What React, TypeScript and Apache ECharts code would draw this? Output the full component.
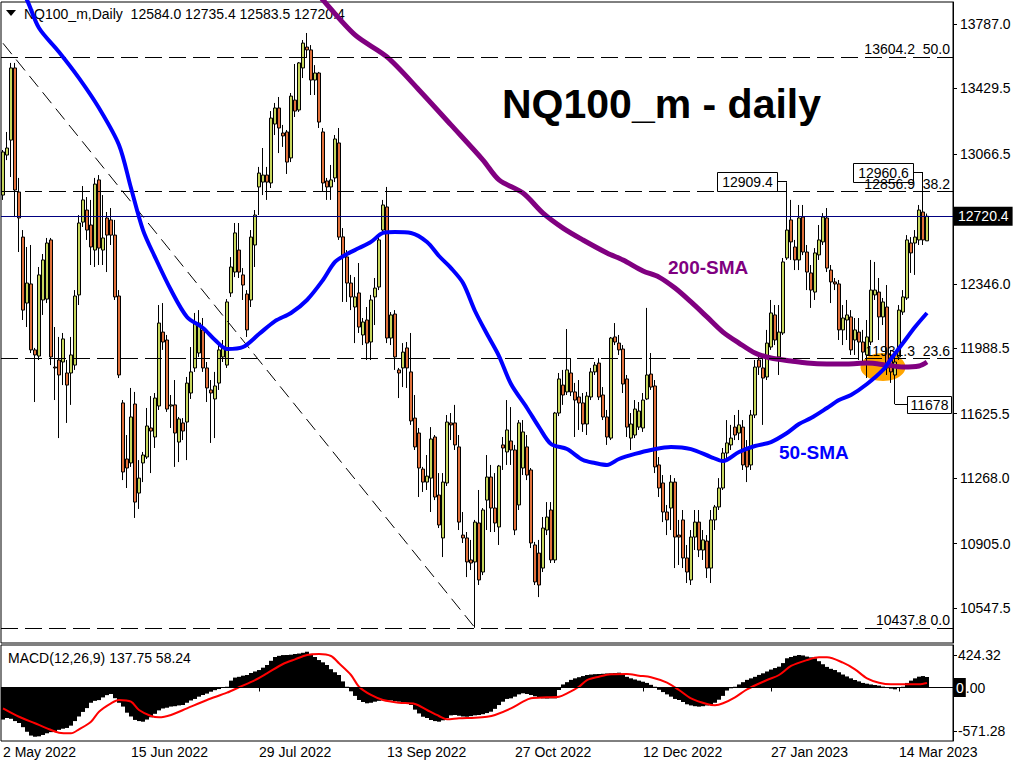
import React, { useEffect, useRef } from "react";
import * as echarts from "echarts";

const FONT = "Liberation Sans";
const headerText = "NQ100_m,Daily  12584.0 12735.4 12583.5 12720.4";
const macdText = "MACD(12,26,9) 137.75 58.24";
const titleText = "NQ100_m - daily";

const dateLabels = ["2 May 2022", "15 Jun 2022", "29 Jul 2022", "13 Sep 2022", "27 Oct 2022", "12 Dec 2022", "27 Jan 2023", "14 Mar 2023"];
const LABEL_EVERY = 32;
const SLOTS = 238;

// [open, high, low, close]
const candles: number[][] = [
  [12838, 13088, 12811, 13077], [13060, 13188, 13032, 13099], [13143, 13571, 12938, 13543], [13543, 13571, 12716, 12866],
  [12855, 12933, 12522, 12711], [12605, 12644, 12145, 12200], [12239, 12550, 12106, 12350], [12345, 12561, 11962, 11979],
  [11979, 11990, 11690, 11951], [11945, 12439, 11923, 12395], [12256, 12511, 12173, 12478], [12261, 12600, 12239, 12572],
  [12589, 12600, 11895, 11940], [11884, 12106, 11701, 11879], [11923, 12051, 11490, 11840], [11912, 12073, 11784, 12040],
  [11851, 11923, 11574, 11784], [11851, 12051, 11674, 11951], [11895, 12311, 11868, 12278], [12284, 12727, 12228, 12683],
  [12688, 12888, 12661, 12811], [12755, 12827, 12589, 12644], [12672, 12811, 12450, 12550], [12533, 12933, 12439, 12899],
  [12922, 12949, 12450, 12544], [12533, 12838, 12450, 12600], [12711, 12744, 12411, 12616], [12700, 12766, 12561, 12616],
  [12616, 12700, 12256, 12273], [12278, 12311, 11823, 11840], [11685, 11701, 11257, 11302], [11374, 11507, 11213, 11324],
  [11352, 11768, 11330, 11607], [11679, 11746, 11047, 11135], [11185, 11368, 11097, 11268], [11352, 11413, 11246, 11396],
  [11385, 11657, 11374, 11557], [11546, 11723, 11296, 11529], [11496, 11740, 11435, 11712], [11668, 12228, 11646, 12128],
  [12078, 12239, 11979, 12023], [12034, 12062, 11635, 11651], [11668, 11729, 11546, 11674], [11674, 11812, 11330, 11518],
  [11468, 11607, 11357, 11596], [11574, 11601, 11479, 11529], [11579, 11829, 11368, 11795], [11740, 11995, 11707, 11857],
  [11879, 12184, 11857, 12128], [11962, 12200, 11940, 12128], [12090, 12156, 11857, 11879], [11879, 11912, 11690, 11768],
  [11757, 11812, 11463, 11740], [11707, 11857, 11490, 11779], [11795, 12017, 11757, 11979], [11940, 12034, 11912, 11995],
  [11895, 12261, 11879, 12245], [12295, 12494, 12273, 12439], [12411, 12683, 12383, 12628], [12533, 12683, 12378, 12411],
  [12395, 12433, 12256, 12339], [12289, 12311, 12051, 12090], [12256, 12644, 12217, 12605], [12561, 12755, 12439, 12727],
  [12883, 12994, 12727, 12960], [12910, 13099, 12838, 12949], [12949, 12994, 12811, 12910], [12905, 13304, 12877, 13265],
  [13232, 13349, 13171, 13321], [13321, 13382, 13071, 13210], [13182, 13227, 13105, 13166], [13188, 13199, 12955, 13021],
  [13044, 13404, 13021, 13387], [13365, 13565, 13271, 13304], [13310, 13576, 13299, 13571], [13543, 13698, 13487, 13681],
  [13659, 13737, 13598, 13643], [13643, 13670, 13393, 13476], [13476, 13559, 13393, 13515], [13515, 13521, 13210, 13243],
  [13188, 13210, 12855, 12905], [12916, 12933, 12811, 12883], [12883, 13005, 12811, 12922], [12933, 13171, 12910, 13149],
  [13127, 13210, 12589, 12605], [12606, 12655, 12245, 12495], [12495, 12533, 12245, 12350], [12350, 12395, 12200, 12273],
  [12217, 12383, 12017, 12273], [12295, 12461, 12073, 12106], [12062, 12156, 12006, 12134], [12145, 12217, 11923, 12017],
  [12023, 12284, 11923, 12256], [12273, 12378, 12117, 12322], [12328, 12616, 12311, 12589], [12644, 12811, 12616, 12783],
  [12772, 12883, 12017, 12045], [12045, 12189, 12006, 12173], [12178, 12200, 11868, 11940], [11868, 11879, 11712, 11851],
  [11879, 12017, 11773, 11967], [11990, 12023, 11768, 11879], [11857, 12073, 11563, 11585], [11601, 11729, 11424, 11441],
  [11518, 11546, 11163, 11324], [11318, 11330, 11191, 11246], [11246, 11396, 11202, 11279], [11268, 11551, 11080, 11485],
  [11496, 11507, 11146, 11163], [11174, 11296, 10991, 11008], [10936, 11296, 10830, 11246], [11241, 11618, 11224, 11579],
  [11574, 11629, 11479, 11563], [11574, 11674, 11424, 11452], [11441, 11507, 10980, 11024], [10952, 11080, 10908, 10936],
  [10936, 10969, 10719, 10803], [10814, 10925, 10758, 10797], [10803, 11036, 10437.8, 11024], [11019, 11202, 10675, 10703],
  [10747, 11102, 10730, 11091], [11146, 11396, 10980, 11274], [11274, 11341, 10969, 11102], [11102, 11296, 10969, 11019],
  [10997, 11341, 10897, 11335], [11452, 11496, 11313, 11435], [11413, 11701, 11341, 11535], [11474, 11662, 11341, 11424],
  [11424, 11452, 10952, 10980], [11119, 11590, 11091, 11574], [11324, 11590, 11285, 11524], [11441, 11507, 11257, 11285],
  [11313, 11324, 10880, 10908], [10897, 10914, 10675, 10692], [10852, 10925, 10608, 10675], [10769, 11052, 10747, 10991],
  [10980, 11135, 10952, 11052], [11091, 11135, 10797, 10814], [10814, 11635, 10797, 11629], [11629, 11851, 11612, 11818],
  [11784, 11868, 11674, 11729], [11746, 12095, 11729, 11868], [11851, 11934, 11723, 11746], [11746, 11796, 11496, 11701],
  [11718, 11812, 11535, 11685], [11685, 11740, 11524, 11568], [11568, 11746, 11507, 11723], [11718, 11879, 11701, 11857],
  [11857, 11912, 11840, 11895], [11906, 11934, 11701, 11718], [11729, 11773, 11590, 11607], [11607, 11646, 11452, 11496],
  [11490, 12051, 11479, 12045], [12051, 12128, 12006, 12023], [12017, 12062, 11951, 11979], [11984, 12006, 11740, 11790],
  [11818, 11840, 11496, 11551], [11490, 11629, 11424, 11568], [11507, 11701, 11490, 11651], [11551, 11690, 11535, 11640],
  [11546, 11740, 11524, 11701], [11707, 12212, 11701, 11840], [11845, 11962, 11757, 11773], [11779, 11812, 11296, 11330],
  [11341, 11385, 11163, 11213], [11241, 11285, 11024, 11080], [11080, 11119, 10952, 11036], [11102, 11285, 10980, 11246],
  [11246, 11268, 10769, 10941], [10952, 11036, 10786, 10941], [11036, 11091, 10769, 10825], [10825, 10897, 10686, 10747],
  [10703, 10980, 10675, 10941], [10941, 11091, 10869, 11024], [11024, 11091, 10830, 10869], [10869, 10980, 10814, 10925],
  [10919, 10952, 10714, 10769], [10769, 11091, 10686, 11036], [11036, 11119, 10980, 11108], [11108, 11268, 11091, 11213],
  [11213, 11435, 11202, 11407], [11407, 11590, 11368, 11463], [11452, 11563, 11424, 11490], [11551, 11618, 11479, 11507],
  [11518, 11646, 11479, 11563], [11551, 11590, 11313, 11341], [11424, 11479, 11246, 11330], [11341, 11646, 11313, 11618],
  [11618, 11923, 11601, 11884], [11923, 11951, 11840, 11884], [11879, 11951, 11563, 11823], [11829, 12090, 11812, 12017],
  [11995, 12256, 11979, 12184], [12173, 12228, 12006, 12034], [11940, 12228, 11840, 12078], [12073, 12489, 12062, 12467],
  [12489, 12909.4, 12478, 12644], [12700, 12811, 12478, 12578], [12550, 12589, 12422, 12478], [12478, 12783, 12422, 12711],
  [12716, 12783, 12505, 12522], [12522, 12561, 12311, 12411], [12406, 12450, 12212, 12311], [12300, 12544, 12256, 12517],
  [12506, 12672, 12478, 12589], [12578, 12738, 12561, 12716], [12711, 12766, 12411, 12433], [12422, 12450, 12239, 12356],
  [12356, 12378, 12311, 12345], [12345, 12367, 12034, 12090], [12090, 12228, 12006, 12156], [12145, 12256, 12034, 12173],
  [12162, 12200, 11951, 11979], [12034, 12156, 11951, 12090], [12078, 12156, 11923, 12023], [12023, 12090, 11912, 11967],
  [11951, 12145, 11823, 12051], [12023, 12478, 12006, 12311], [12284, 12467, 12256, 12311], [12300, 12378, 12034, 12162],
  [12162, 12267, 12117, 12245], [12217, 12339, 11840, 11879], [11934, 11979, 11796, 11857], [11840, 11951, 11678, 11912],
  [11940, 12228, 11923, 12200], [12189, 12311, 12173, 12273], [12267, 12616, 12256, 12589], [12572, 12605, 12406, 12517],
  [12572, 12644, 12395, 12605], [12589, 12783, 12561, 12755], [12744, 12960.6, 12561, 12589], [12584.0, 12735.4, 12583.5, 12720.4],
];

// [bar index, value]
const sma50: number[][] = [
  [0, 14170], [6, 13920], [9, 13765], [14, 13632], [19, 13487], [24, 13321], [29, 13116], [32, 12877], [35, 12644],
  [38, 12494], [42, 12311], [46, 12162], [50, 12101], [53, 12034], [56, 11984], [60, 11995], [64, 12067], [68, 12139],
  [72, 12184], [76, 12256], [80, 12367], [83, 12467], [86, 12511], [89, 12544], [92, 12578], [95, 12628], [98, 12633],
  [102, 12628], [106, 12578], [109, 12500], [112, 12433], [115, 12350], [118, 12195], [121, 12067], [124, 11945],
  [127, 11790], [131, 11657], [134, 11551], [137, 11457], [141, 11429], [145, 11368], [148, 11352], [151, 11341],
  [154, 11374], [158, 11402], [162, 11424], [167, 11441], [172, 11429], [177, 11385], [180, 11363], [184, 11413],
  [188, 11446], [192, 11468], [196, 11518], [199, 11568], [202, 11601], [206, 11657], [209, 11701], [212, 11729],
  [216, 11790], [220, 11868], [222, 11929], [225, 12017], [228, 12106], [231, 12184],
];
const sma200: number[][] = [
  [78, 13975], [80, 13920], [88, 13726], [96, 13604], [104, 13421], [112, 13227], [120, 13032], [124, 12922],
  [130, 12849], [135, 12738], [140, 12655], [145, 12589], [151, 12517], [155, 12478], [160, 12417], [164, 12383],
  [168, 12322], [172, 12245], [176, 12162], [180, 12078], [184, 12017], [188, 11962], [192, 11934], [197, 11918],
  [201, 11906], [206, 11901], [211, 11901], [216, 11906], [221, 11895], [225, 11884], [229, 11890], [231, 11912],
];
const trendLine: number[][] = [[0, 13680], [118, 10437.8]];

const fibLevels = [
  { price: 13604.2, text: "13604.2  50.0" },
  { price: 12856.9, text: "12856.9  38.2" },
  { price: 11931.3, text: "11931.3  23.6" },
  { price: 10437.8, text: "10437.8 0.0" },
];
const lastPrice = 12720.4;
const priceTicks = [13787.0, 13429.5, 13066.5, 12346.0, 11988.5, 11625.5, 11268.0, 10905.0, 10547.5];
const priceMin = 10353.3;
const priceMax = 13908.9;
const highlightPoint = [220, 11884];

const macdHist: number[] = [
  -420, -400, -410, -440, -465, -520, -580, -630, -645, -640,
  -622, -600, -585, -570, -555, -540, -530, -500, -440, -380,
  -320, -270, -200, -175, -165, -130, -100, -85, -140, -200,
  -250, -330, -380, -425, -440, -448, -420, -390, -345, -300,
  -275, -265, -250, -245, -235, -229, -200, -170, -150, -120,
  -98, -80, -55, -35, -20, -5, 10, 90, 130, 140,
  155, 164, 190, 210, 229, 260, 295, 350, 400, 415,
  425, 426, 430, 439, 445, 455, 469, 440, 400, 360,
  330, 295, 240, 200, 164, 80, 10, -50, -110, -164,
  -190, -207, -200, -186, -175, -168, -164, -170, -180, -186,
  -195, -210, -229, -290, -340, -383, -400, -426, -440, -448,
  -430, -400, -365, -360, -370, -380, -383, -375, -365, -360,
  -350, -335, -317, -280, -230, -186, -150, -142, -120, -90,
  -76, -85, -98, -115, -135, -142, -145, -142, -142, -33,
  40, 70, 100, 120, 135, 150, 164, 170, 175, 177,
  180, 184, 186, 190, 194, 170, 140, 120, 105, 90,
  76, 60, 35, 10, -30, -60, -90, -120, -150, -164,
  -190, -220, -235, -245, -251, -245, -235, -229, -200, -160,
  -110, -40, -10, 10, 40, 70, 100, 120, 140, 165,
  186, 210, 235, 255, 273, 320, 383, 400, 415, 426,
  420, 405, 395, 383, 345, 305, 270, 245, 229, 200,
  170, 145, 120, 98, 80, 60, 50, 40, 33, 25,
  12, 0, -15, -24, -5, 10, 60, 90, 120, 142,
  150, 137.75,
];
const macdSignal: number[][] = [
  [0, -273], [4, -383], [8, -469], [11, -535], [14, -592], [17, -600], [19, -548], [22, -448], [24, -317],
  [27, -207], [29, -164], [32, -186], [34, -295], [37, -373], [39, -391], [42, -360], [46, -273], [51, -164],
  [56, -68], [59, 3], [63, 98], [66, 186], [70, 308], [73, 369], [76, 426], [79, 439], [82, 413], [84, 317],
  [87, 164], [89, 10], [92, -98], [95, -164], [99, -199], [103, -216], [106, -295], [109, -373], [111, -417],
  [114, -404], [118, -396], [121, -383], [123, -360], [127, -273], [130, -186], [132, -142], [136, -129],
  [139, -120], [141, -76], [144, 10], [146, 98], [149, 142], [152, 173], [156, 177], [159, 155], [162, 134],
  [166, 63], [169, -33], [172, -142], [176, -216], [178, -232], [180, -207], [183, -129], [186, -24], [191, 98],
  [194, 164], [197, 282], [201, 360], [204, 396], [206, 396], [210, 325], [213, 238], [216, 120], [219, 63],
  [222, 42], [226, 42], [229, 42], [231, 58.24],
];
const macdTicks = [424.32, 0, -571.28];
const macdMin = -701;
const macdMax = 557;

const UP = "#c6d65c";
const DOWN = "#e0703a";

export default function App() {
  const ref = useRef<HTMLDivElement>(null);
  useEffect(() => {
    document.body.style.margin = "0";
    if (!ref.current) return;
    const chart = echarts.init(ref.current, null, { renderer: "svg" });
    const cats = Array.from({ length: SLOTS }, (_, i) => String(i));
    const showTick = (i: number) => i % LABEL_EVERY === 0 && i < candles.length;
    const lbl = { fontFamily: FONT, fontSize: 14, color: "#000" };

    const option: any = {
      animation: false,
      backgroundColor: "#fff",
      textStyle: { fontFamily: FONT },
      grid: [
        { left: 1, top: 2, width: 952, height: 641, show: true, borderColor: "#000", borderWidth: 1, backgroundColor: "transparent" },
        { left: 1, top: 645, width: 952, height: 96, show: true, borderColor: "#000", borderWidth: 1, backgroundColor: "transparent" },
      ],
      xAxis: [
        {
          type: "category", gridIndex: 0, data: cats, boundaryGap: true,
          axisLine: { show: false }, axisTick: { show: false }, axisLabel: { show: false }, splitLine: { show: false },
        },
        {
          type: "category", gridIndex: 1, data: cats, boundaryGap: true,
          axisLine: { show: false },
          axisTick: { show: true, alignWithLabel: true, interval: (i: number) => showTick(i), length: 4, lineStyle: { color: "#000" } },
          axisLabel: {
            ...lbl, interval: (i: number) => showTick(i), align: "left", margin: 4,
            formatter: (_v: string, i: number) => dateLabels[Math.round(i / LABEL_EVERY)] ?? "",
          },
          splitLine: { show: false },
        },
      ],
      yAxis: [
        {
          type: "value", gridIndex: 0, position: "right", min: priceMin, max: priceMax, scale: true,
          splitLine: { show: false },
          axisLine: { show: true, lineStyle: { color: "#000" } },
          axisTick: { show: true, customValues: priceTicks, length: 4, lineStyle: { color: "#000" } },
          axisLabel: { ...lbl, customValues: priceTicks, margin: 7, formatter: (v: number) => v.toFixed(1) },
        },
        {
          type: "value", gridIndex: 1, position: "right", min: macdMin, max: macdMax,
          splitLine: { show: false },
          axisLine: { show: true, lineStyle: { color: "#000" } },
          axisTick: { show: true, customValues: macdTicks, length: 4, lineStyle: { color: "#000" } },
          axisLabel: {
            ...lbl, customValues: macdTicks, margin: 1,
            formatter: (v: number) => (v === 0 ? "{b|0}{n|.00}" : "{n| " + v.toFixed(2) + "}"),
            rich: {
              b: { backgroundColor: "#000", color: "#fff", fontFamily: FONT, fontSize: 14, padding: [3, 2, 2, 2] },
              n: { color: "#000", fontFamily: FONT, fontSize: 14 },
            },
          },
        },
      ],
      series: [
        {
          type: "scatter", xAxisIndex: 0, yAxisIndex: 0, data: [highlightPoint], symbol: "circle",
          symbolSize: [45, 28], itemStyle: { color: "#ffa500", opacity: 1 }, z: 1, silent: true,
        },
        {
          type: "candlestick", xAxisIndex: 0, yAxisIndex: 0, barWidth: 3, z: 2,
          data: candles.map((c) => [c[0], c[3], c[2], c[1]]),
          itemStyle: { color: UP, color0: DOWN, borderColor: "#000", borderColor0: "#000", borderWidth: 1 },
          markLine: {
            symbol: ["none", "none"], silent: true, animation: false,
            data: [
              ...fibLevels.map((f) => ({
                yAxis: f.price,
                lineStyle: { color: "#000", width: 1, type: [17, 7] },
                label: { show: true, position: "insideEndTop", formatter: f.text, ...lbl, distance: [3, 1] },
              })),
              {
                yAxis: lastPrice,
                lineStyle: { color: "#000080", width: 1, type: "solid" },
                label: {
                  show: true, position: "end", formatter: lastPrice.toFixed(1), fontFamily: FONT, fontSize: 14,
                  color: "#fff", backgroundColor: "#000", padding: [3, 4, 2, 4], distance: 1,
                },
              },
            ],
          },
        },
        {
          type: "line", xAxisIndex: 0, yAxisIndex: 0, data: trendLine, symbol: "none", z: 3, silent: true,
          lineStyle: { color: "#000", width: 1, type: [14, 7] },
        },
        {
          type: "line", xAxisIndex: 0, yAxisIndex: 0, data: sma200, symbol: "none", smooth: 0.3, z: 4, silent: true,
          lineStyle: { color: "#800080", width: 5 },
        },
        {
          type: "line", xAxisIndex: 0, yAxisIndex: 0, data: sma50, symbol: "none", smooth: 0.3, z: 5, silent: true,
          lineStyle: { color: "#0000ff", width: 4 },
        },
        {
          type: "bar", xAxisIndex: 1, yAxisIndex: 1, data: macdHist, barCategoryGap: "0%", barGap: "0%",
          itemStyle: { color: "#000" }, z: 2, silent: true,
          markLine: {
            symbol: ["none", "none"], silent: true,
            data: [{ yAxis: 0, lineStyle: { color: "#000", width: 1, type: "solid" }, label: { show: false } }],
          },
        },
        {
          type: "line", xAxisIndex: 1, yAxisIndex: 1, data: macdSignal, symbol: "none", smooth: 0.3, z: 3, silent: true,
          lineStyle: { color: "#ff0000", width: 2 },
        },
      ],
      graphic: [
        { type: "polygon", shape: { points: [[6, 10], [16, 10], [11, 16]] }, style: { fill: "#000" }, silent: true },
        { type: "text", x: 24, y: 14, style: { text: headerText, font: `14px "${FONT}"`, fill: "#000", textVerticalAlign: "middle" }, silent: true },
        { type: "text", x: 8, y: 658, style: { text: macdText, font: `14px "${FONT}"`, fill: "#000", textVerticalAlign: "middle" }, silent: true },
        { type: "text", x: 502, y: 104, style: { text: titleText, font: `bold 41px "${FONT}"`, fill: "#000", textVerticalAlign: "middle" }, silent: true },
        { type: "text", x: 668, y: 267, style: { text: "200-SMA", font: `bold 19px "${FONT}"`, fill: "#800080", textVerticalAlign: "middle" }, silent: true },
        { type: "text", x: 779, y: 452, style: { text: "50-SMA", font: `bold 19px "${FONT}"`, fill: "#0000ff", textVerticalAlign: "middle" }, silent: true },
        // price callouts
        { type: "line", shape: { x1: 777, y1: 181.5, x2: 787, y2: 181.5 }, style: { stroke: "#000", lineWidth: 1 }, silent: true },
        { type: "rect", shape: { x: 717.5, y: 172.5, width: 60, height: 19 }, style: { fill: "#fff", stroke: "#000", lineWidth: 1 }, silent: true },
        { type: "text", x: 747.5, y: 182, style: { text: "12909.4", font: `14px "${FONT}"`, fill: "#000", textAlign: "center", textVerticalAlign: "middle" }, silent: true },
        { type: "line", shape: { x1: 913, y1: 172.5, x2: 923, y2: 172.5 }, style: { stroke: "#000", lineWidth: 1 }, silent: true },
        { type: "rect", shape: { x: 853.5, y: 163.5, width: 60, height: 19 }, style: { fill: "#fff", stroke: "#000", lineWidth: 1 }, silent: true },
        { type: "text", x: 883.5, y: 173, style: { text: "12960.6", font: `14px "${FONT}"`, fill: "#000", textAlign: "center", textVerticalAlign: "middle" }, silent: true },
        { type: "line", shape: { x1: 895, y1: 404.5, x2: 907, y2: 404.5 }, style: { stroke: "#000", lineWidth: 1 }, silent: true },
        { type: "rect", shape: { x: 907.5, y: 396.5, width: 44, height: 17 }, style: { fill: "#fff", stroke: "#000", lineWidth: 1 }, silent: true },
        { type: "text", x: 929.5, y: 405, style: { text: "11678", font: `14px "${FONT}"`, fill: "#000", textAlign: "center", textVerticalAlign: "middle" }, silent: true },
      ],
    };
    chart.setOption(option);
    return () => chart.dispose();
  }, []);
  return <div ref={ref} style={{ width: 1024, height: 768, background: "#fff" }} />;
}
